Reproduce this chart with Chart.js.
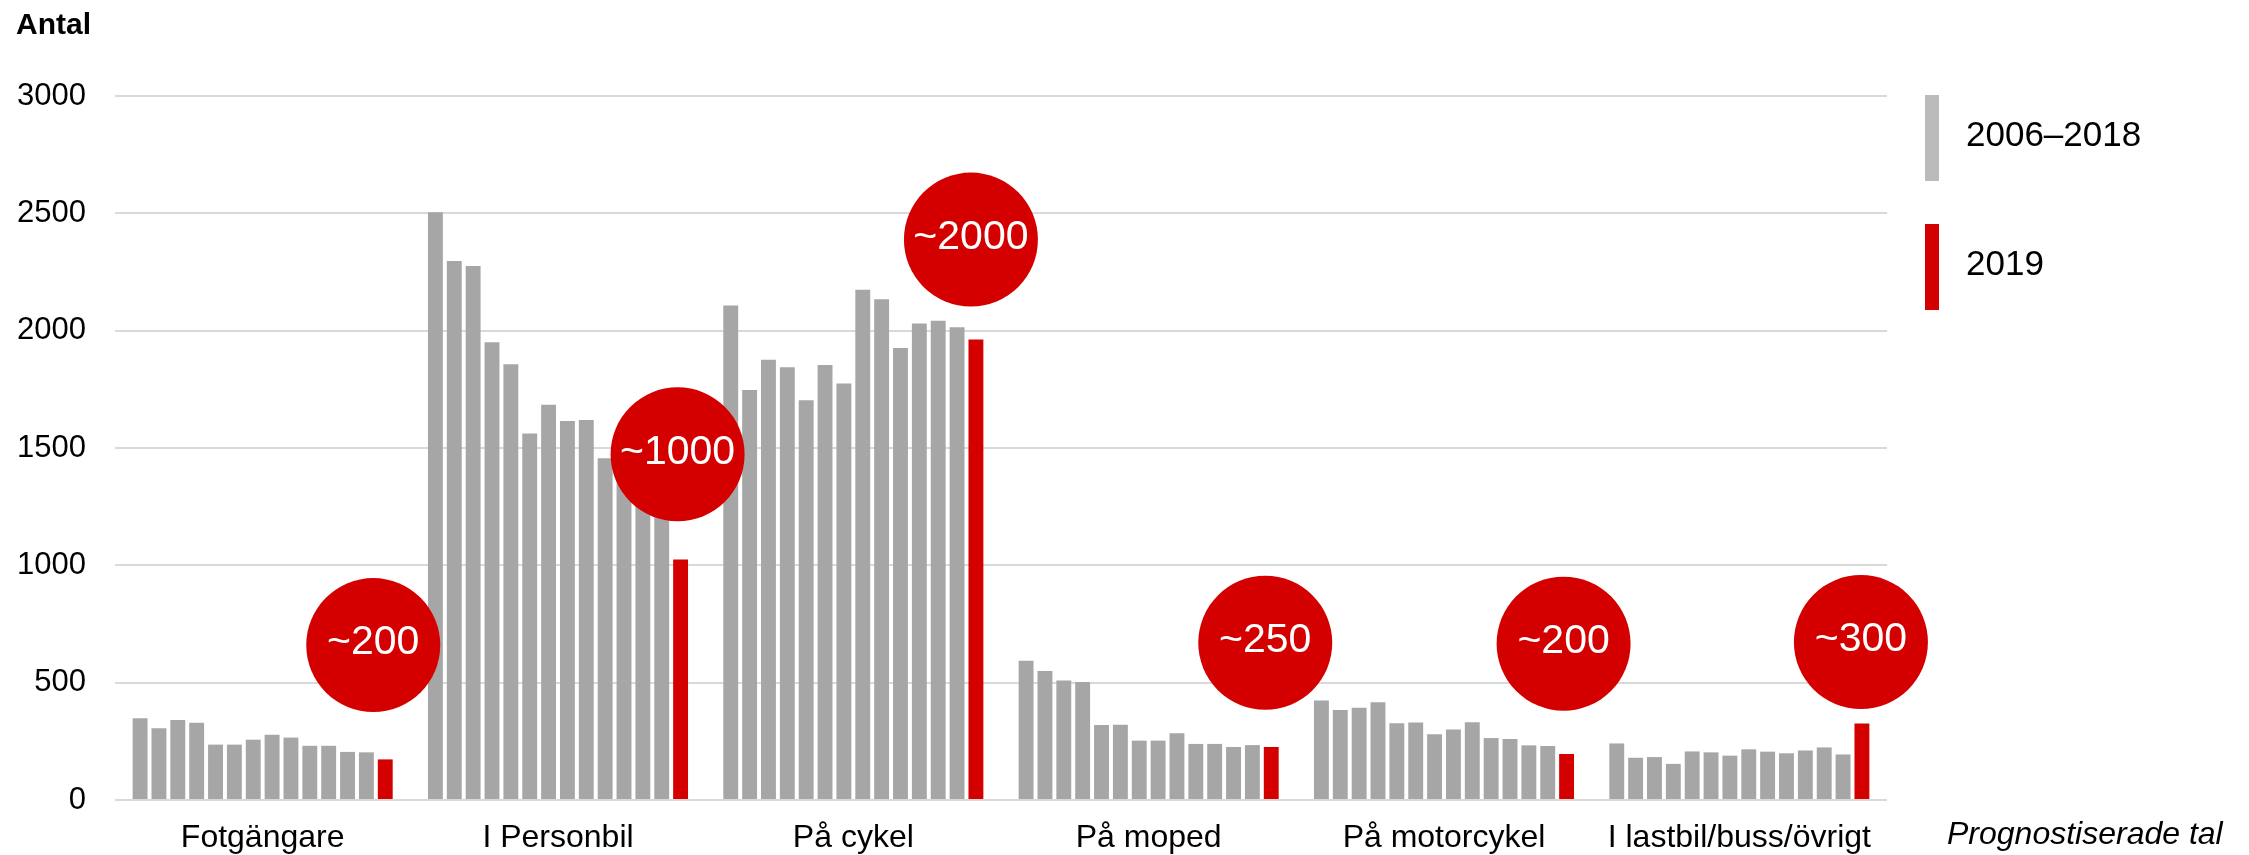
<!DOCTYPE html>
<html>
<head>
<meta charset="utf-8">
<script src="https://cdn.jsdelivr.net/npm/chart.js@4/dist/chart.umd.min.js"></script>
<style>
  html, body { margin: 0; padding: 0; background: #fff; }
  #wrap { width: 2249px; height: 855px; }
</style>
</head>
<body>
<div id="wrap"><canvas id="chart" width="2249" height="855"></canvas></div>
<script>
const categories = ['Fotgängare', 'I Personbil', 'På cykel', 'På moped', 'På motorcykel', 'I lastbil/buss/övrigt'];
const years = [2006, 2007, 2008, 2009, 2010, 2011, 2012, 2013, 2014, 2015, 2016, 2017, 2018, 2019];

// one value per year, 2006..2019 (2019 = prognos)
const fotgangare = [348, 306, 341, 329, 236, 236, 257, 278, 266, 231, 231, 205, 203, 173];
const personbil  = [2505, 2297, 2276, 1951, 1857, 1562, 1684, 1615, 1619, 1456, 1400, 1350, 1300, 1025];
const cykel      = [2107, 1747, 1876, 1844, 1703, 1854, 1775, 2174, 2134, 1926, 2031, 2042, 2015, 1962];
const moped      = [593, 550, 509, 503, 320, 321, 253, 253, 284, 239, 239, 226, 234, 226];
const motorcykel = [424, 383, 393, 417, 327, 330, 280, 300, 331, 264, 260, 233, 230, 196];
const lastbil    = [241, 180, 183, 154, 207, 203, 189, 216, 206, 199, 211, 224, 194, 326];

const yTicks = [0, 500, 1000, 1500, 2000, 2500, 3000];

// prognosis bubbles
const bubbleText = ['~200', '~1000', '~2000', '~250', '~200', '~300'];
const bubbleAt = [660, 1473, 2388, 670, 666, 673];

const legendLabels = ['2006–2018', '2019'];

const GREY = '#a6a6a6';
const LEGEND_GREY = '#bbbbbb';
const RED = '#d40000';
const FONT = '"Liberation Sans", Arial, Helvetica, sans-serif';

const series = [fotgangare, personbil, cykel, moped, motorcykel, lastbil];

const datasets = years.map((yr, i) => ({
    label: String(yr),
    data: series.map(s => s[i]),
    backgroundColor: yr === 2019 ? RED : GREY,
    borderWidth: 0,
    categoryPercentage: 0.894,
    barPercentage: 0.79
}));

const bubbleShift = [-12, -3, -5, -6, -3, -1];

const bubbles = {
    id: 'bubbles',
    afterDatasetsDraw(chart) {
        const ctx = chart.ctx;
        const y = chart.scales.y;
        const meta = chart.getDatasetMeta(years.length - 1);
        ctx.save();
        meta.data.forEach((bar, i) => {
            const cx = bar.x + bubbleShift[i];
            const cy = y.getPixelForValue(bubbleAt[i]);
            ctx.beginPath();
            ctx.arc(cx, cy, 67, 0, Math.PI * 2);
            ctx.fillStyle = RED;
            ctx.fill();
            ctx.fillStyle = '#fff';
            ctx.font = '41px ' + FONT;
            ctx.textAlign = 'center';
            ctx.textBaseline = 'middle';
            ctx.fillText(bubbleText[i], cx, cy - 2);
        });
        ctx.restore();
    }
};

const extras = {
    id: 'extras',
    afterDraw(chart) {
        const ctx = chart.ctx;
        const right = chart.chartArea.right;
        ctx.save();
        // axis title
        ctx.fillStyle = '#000';
        ctx.textAlign = 'left';
        ctx.textBaseline = 'alphabetic';
        ctx.font = 'bold 30px ' + FONT;
        ctx.fillText('Antal', 16, 34);

        // legend
        const colors = [LEGEND_GREY, RED];
        const tops = [95, 224];
        ctx.font = '35px ' + FONT;
        legendLabels.forEach((txt, i) => {
            ctx.fillStyle = colors[i];
            ctx.fillRect(right + 38, tops[i], 14, 86);
            ctx.fillStyle = '#000';
            ctx.fillText(txt, right + 79, tops[i] + 51);
        });

        // note
        ctx.font = 'italic 32px ' + FONT;
        ctx.fillText('Prognostiserade tal', 1947, 844);
        ctx.restore();
    }
};

new Chart(document.getElementById('chart').getContext('2d'), {
    type: 'bar',
    data: {
        labels: categories,
        datasets: datasets
    },
    options: {
        responsive: false,
        animation: false,
        devicePixelRatio: 1,
        layout: {
            padding: { left: 16, right: 362, top: 96, bottom: 0 }
        },
        plugins: {
            legend: { display: false },
            tooltip: { enabled: false },
            title: { display: false }
        },
        scales: {
            x: {
                grid: { display: false },
                border: { display: false },
                ticks: {
                    color: '#000',
                    font: { family: FONT, size: 32 },
                    padding: 11,
                    autoSkip: false,
                    maxRotation: 0
                },
                afterFit(scale) { scale.height = 55; }
            },
            y: {
                min: 0,
                max: 3000,
                afterBuildTicks(scale) { scale.ticks = yTicks.map(v => ({ value: v })); },
                grid: { color: '#d9d9d9', lineWidth: 2, drawTicks: false },
                border: { display: false },
                ticks: {
                    color: '#000',
                    font: { family: FONT, size: 31 },
                    padding: 29,
                    callback: v => String(v)
                },
                afterFit(scale) { scale.width = 99; }
            }
        }
    },
    plugins: [bubbles, extras]
});
</script>
</body>
</html>
